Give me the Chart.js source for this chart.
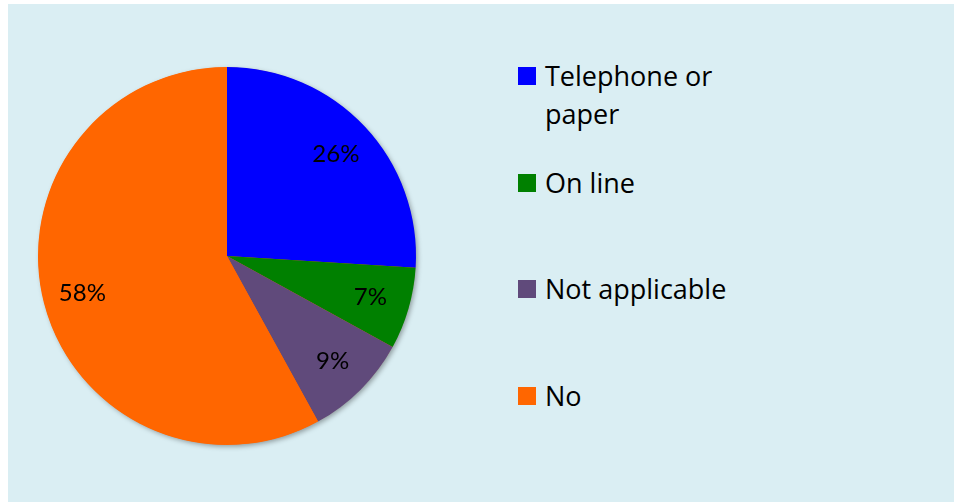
<!DOCTYPE html>
<html lang="en">
<head>
    <meta charset="UTF-8">
    <title>Response method</title>
    <script src="https://cdn.jsdelivr.net/npm/chart.js"></script>
    <style>
        body {
            margin: 0;
            padding: 0;
            background-color: #ffffff;
            font-family: 'Open Sans', 'Lato', sans-serif;
        }
        .panel {
            position: absolute;
            left: 8px;
            top: 4px;
            width: 946px;
            height: 498px;
            background-color: #daeef3;
        }
        #pie-box {
            position: absolute;
            left: 19px;
            top: 52px;
            width: 400px;
            height: 400px;
        }
        .legend-item {
            position: absolute;
            left: 510px;
            width: 240px;
            font-size: 27px;
            line-height: 38px;
            color: #000;
        }
        .legend-item .swatch {
            position: absolute;
            left: 0;
            top: 10px;
            width: 18px;
            height: 18px;
        }
        .legend-item .text {
            margin-left: 27px;
            width: 205px;
        }
    </style>
</head>
<body>
    <div class="panel">
        <div id="pie-box"><canvas id="pie-chart"></canvas></div>
        <div id="legend"></div>
    </div>

    <script>
        const categories = ['Telephone or paper', 'On line', 'Not applicable', 'No'];
        const shares = [26, 7, 9, 58];
        const sliceColors = ['#0000ff', '#008000', '#604a7b', '#ff6600'];

        // percent labels inside each slice
        const sliceLabels = {
            id: 'sliceLabels',
            afterDatasetsDraw(chart) {
                const ctx = chart.ctx;
                const meta = chart.getDatasetMeta(0);
                ctx.save();
                ctx.font = '24px Lato, "Open Sans", sans-serif';
                ctx.fillStyle = '#000';
                ctx.textAlign = 'center';
                ctx.textBaseline = 'middle';
                meta.data.forEach((arc, i) => {
                    const mid = (arc.startAngle + arc.endAngle) / 2;
                    const r = arc.outerRadius * 0.79;
                    ctx.fillText(shares[i] + '%', arc.x + Math.cos(mid) * r, arc.y + Math.sin(mid) * r);
                });
                ctx.restore();
            }
        };

        // soft shadow under the whole pie
        const pieShadow = {
            id: 'pieShadow',
            beforeDatasetsDraw(chart) {
                const arc = chart.getDatasetMeta(0).data[0];
                if (!arc) return;
                const ctx = chart.ctx;
                ctx.save();
                ctx.shadowColor = 'rgba(0,0,0,0.35)';
                ctx.shadowBlur = 5;
                ctx.shadowOffsetX = 2;
                ctx.shadowOffsetY = 2;
                ctx.fillStyle = sliceColors[3];
                ctx.beginPath();
                ctx.arc(arc.x, arc.y, arc.outerRadius - 0.5, 0, Math.PI * 2);
                ctx.fill();
                ctx.restore();
            }
        };

        new Chart(document.getElementById('pie-chart'), {
            type: 'pie',
            data: {
                labels: categories,
                datasets: [{
                    data: shares,
                    backgroundColor: sliceColors,
                    borderWidth: 0
                }]
            },
            options: {
                responsive: true,
                maintainAspectRatio: false,
                animation: false,
                layout: { padding: 11 },
                plugins: {
                    legend: { display: false },
                    tooltip: { enabled: false }
                }
            },
            plugins: [pieShadow, sliceLabels]
        });

        // legend on the right, evenly spaced rows
        const legend = document.getElementById('legend');
        categories.forEach((name, i) => {
            const item = document.createElement('div');
            item.className = 'legend-item';
            item.style.top = (53 + i * 106.5) + 'px';
            item.innerHTML = '<span class="swatch" style="background:' + sliceColors[i] + '"></span>' +
                '<div class="text">' + name + '</div>';
            legend.appendChild(item);
        });
    </script>
</body>
</html>
